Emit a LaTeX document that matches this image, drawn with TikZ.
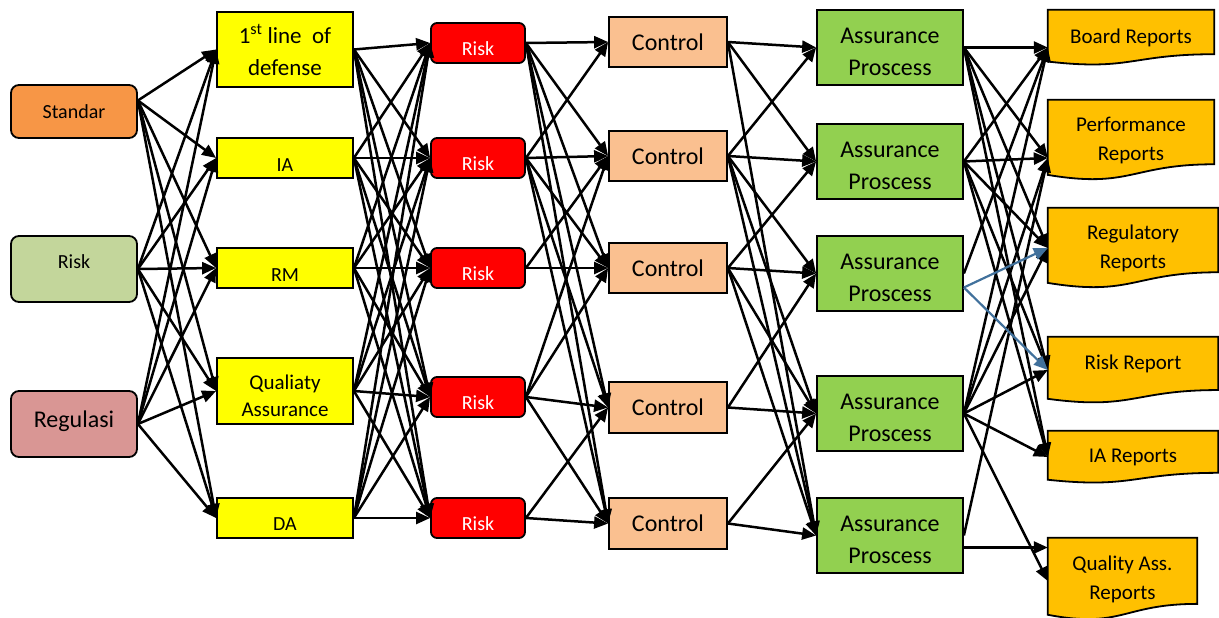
\documentclass[tikz,border=0pt]{standalone}
\usepackage{fontspec}
\setmainfont{Carlito}
\usetikzlibrary{arrows.meta,calc,backgrounds}
\definecolor{cstd}{HTML}{F79646}
\definecolor{crisk}{HTML}{C3D69B}
\definecolor{creg}{HTML}{D99694}
\definecolor{cyel}{HTML}{FFFF00}
\definecolor{cred}{HTML}{FF0000}
\definecolor{cctl}{HTML}{FAC090}
\definecolor{cass}{HTML}{92D050}
\definecolor{crep}{HTML}{FFC000}
\definecolor{cblue}{HTML}{41719C}
\newcommand{\sh}[2]{\raisebox{#1}[\height][\depth]{\begin{tabular}{@{}c@{}}#2\end{tabular}}}
\begin{document}
\begin{tikzpicture}[x=1pt,y=-1pt,
  box/.style={draw=black, line width=1.8pt, inner sep=0pt, align=center},
  srcbox/.style={box, rounded corners=8pt, minimum width=126pt},
  yelbox/.style={box, fill=cyel, minimum width=136pt},
  redbox/.style={box, fill=cred, rounded corners=6pt, minimum width=94pt, minimum height=40pt, text=white, font=\fontsize{20}{24}\selectfont},
  ctlbox/.style={box, fill=cctl, minimum width=118pt, font=\fontsize{24}{29}\selectfont},
  assbox/.style={box, fill=cass, minimum width=146pt, minimum height=75pt, font=\fontsize{24}{32}\selectfont},
  repbox/.style={inner sep=0pt, align=center, font=\fontsize{21}{29}\selectfont},
  docshape/.style={fill=crep, draw=black, line width=1.8pt},
  edge/.style={draw=black, line width=2.5pt, -{Triangle[length=14pt,width=12pt]}},
  bedge/.style={edge, draw=cblue, line width=2.2pt}
]
\useasboundingbox (0,0) rectangle (1219,618);

% column 1
\node[srcbox, fill=cstd, minimum height=53pt, font=\fontsize{20}{24}\selectfont] (s1) at (74,111.5) {Standar};
\node[srcbox, fill=crisk, minimum height=66pt, font=\fontsize{20}{24}\selectfont] (s2) at (74,269) {\sh{5pt}{Risk}};
\node[srcbox, fill=creg, minimum height=66pt, font=\fontsize{24}{28}\selectfont] (s3) at (74,424) {\sh{2pt}{Regulasi}};

% column 2
\node[yelbox, minimum height=75pt, font=\fontsize{23}{32}\selectfont] (y1) at (285,49.5) {\sh{-4pt}{1\textsuperscript{st} line\ \ of\\defense}};
\node[yelbox, minimum height=40pt, font=\fontsize{20}{24}\selectfont] (y2) at (285,158) {\sh{-9pt}{IA}};
\node[yelbox, minimum height=40pt, font=\fontsize{20}{24}\selectfont] (y3) at (285,268) {\sh{-9pt}{RM}};
\node[yelbox, minimum height=66pt, font=\fontsize{21}{27}\selectfont] (y4) at (285,391) {\sh{-7pt}{Qualiaty\\Assurance}};
\node[yelbox, minimum height=40pt, font=\fontsize{20}{24}\selectfont] (y5) at (285,518) {\sh{-8pt}{DA}};

% column 3
\node[redbox] (r1) at (478,43) {\sh{-8pt}{Risk}};
\node[redbox] (r2) at (478,158) {\sh{-8pt}{Risk}};
\node[redbox] (r3) at (478,268) {\sh{-8pt}{Risk}};
\node[redbox] (r4) at (478,397) {\sh{-8pt}{Risk}};
\node[redbox] (r5) at (478,518) {\sh{-8pt}{Risk}};

% column 4
\node[ctlbox, minimum height=50pt] (c1) at (668,42) {Control};
\node[ctlbox, minimum height=50pt] (c2) at (668,156) {Control};
\node[ctlbox, minimum height=50pt] (c3) at (668,268) {Control};
\node[ctlbox, minimum height=51pt] (c4) at (668,407.5) {Control};
\node[ctlbox, minimum height=51pt] (c5) at (668,523.5) {Control};

% column 5
\node[assbox] (a1) at (890,47.5) {\sh{-6pt}{Assurance\\Proscess}};
\node[assbox] (a2) at (890,161.5) {\sh{-6pt}{Assurance\\Proscess}};
\node[assbox] (a3) at (890,273.5) {\sh{-6pt}{Assurance\\Proscess}};
\node[assbox] (a4) at (890,413.5) {\sh{-6pt}{Assurance\\Proscess}};
\node[assbox] (a5) at (890,535.5) {\sh{-6pt}{Assurance\\Proscess}};

% column 6 (document shapes)
\node[repbox, minimum width=166pt, minimum height=55pt] (rep1) at (1131,37.5) {Board Reports};
\node[repbox, minimum width=166pt, minimum height=80pt] (rep2) at (1131,140) {Performance\\Reports};
\node[repbox, minimum width=170pt, minimum height=80pt] (rep3) at (1133,248) {Regulatory\\Reports};
\node[repbox, minimum width=170pt, minimum height=66pt] (rep4) at (1133,370) {\sh{6pt}{Risk Report}};
\node[repbox, minimum width=170pt, minimum height=52pt] (rep5) at (1133,457) {IA Reports};
\node[repbox, minimum width=149pt, minimum height=82pt] (rep6) at (1122.5,579) {Quality Ass.\\Reports};

\begin{scope}[on background layer]
\foreach \n in {rep1,rep2,rep3,rep4,rep5,rep6}
  \path[docshape] (\n.north west) -- (\n.north east) -- ($(\n.north east)!0.802!(\n.south east)$)
    .. controls ($(\n.north)!0.802!(\n.south)$) and ($(\n.north)!1.107!(\n.south)$) ..
    ($(\n.north west)!0.934!(\n.south west)$) -- cycle;
\end{scope}

\coordinate (in1) at ([yshift=-10pt]rep1.west);
\coordinate (in2) at ([yshift=-18pt]rep2.west);
\coordinate (in3) at (rep3.west);
\coordinate (in4) at (rep4.west);
\coordinate (in5) at (rep5.west);
\coordinate (in6) at ([yshift=-2pt]rep6.west);
\coordinate (out1) at ([yshift=11pt]s1.east);

% edges col1 -> col2
\foreach \t in {y1,y2,y3,y4,y5}
  \draw[edge] (out1) -- (\t.west);
\foreach \s in {s2,s3}
  \foreach \t in {y1,y2,y3,y4,y5}
    \draw[edge] (\s.east) -- (\t.west);
% edges col2 -> col3
\foreach \s in {y1,y2,y3,y4,y5}
  \foreach \t in {r1,r2,r3,r4,r5}
    \draw[edge] (\s.east) -- (\t.west);
% edges col3 -> col4
\foreach \s/\t in {r1/c1,r1/c2,r1/c3,r1/c4,r1/c5,r2/c1,r2/c2,r2/c3,r2/c4,r2/c5,
                   r3/c2,r3/c3,r4/c2,r4/c3,r4/c4,r4/c5,r5/c4,r5/c5}
  \draw[edge] (\s.east) -- (\t.west);
% edges col4 -> col5
\foreach \s/\t in {c1/a1,c1/a2,c1/a5,c2/a1,c2/a2,c2/a3,c2/a4,c2/a5,
                   c3/a2,c3/a3,c3/a4,c3/a5,c4/a3,c4/a4,c5/a4,c5/a5}
  \draw[edge] (\s.east) -- (\t.west);
% edges col5 -> col6
\foreach \s/\t in {a1/in1,a1/in2,a1/in3,a1/in4,a1/in5,
                   a2/in1,a2/in2,a2/in3,a2/in4,a2/in5,
                   a3/in1,
                   a4/in1,a4/in2,a4/in3,a4/in4,a4/in5,a4/in6,
                   a5/in2}
  \draw[edge] (\s.east) -- (\t);
\draw[edge] ([yshift=-12pt]a5.east) -- ([yshift=-12pt]a5.east -| rep6.west);
\draw[bedge] ([yshift=-14pt]a3.east) -- (in3);
\draw[bedge] ([yshift=-14pt]a3.east) -- (in4);
\end{tikzpicture}
\end{document}
